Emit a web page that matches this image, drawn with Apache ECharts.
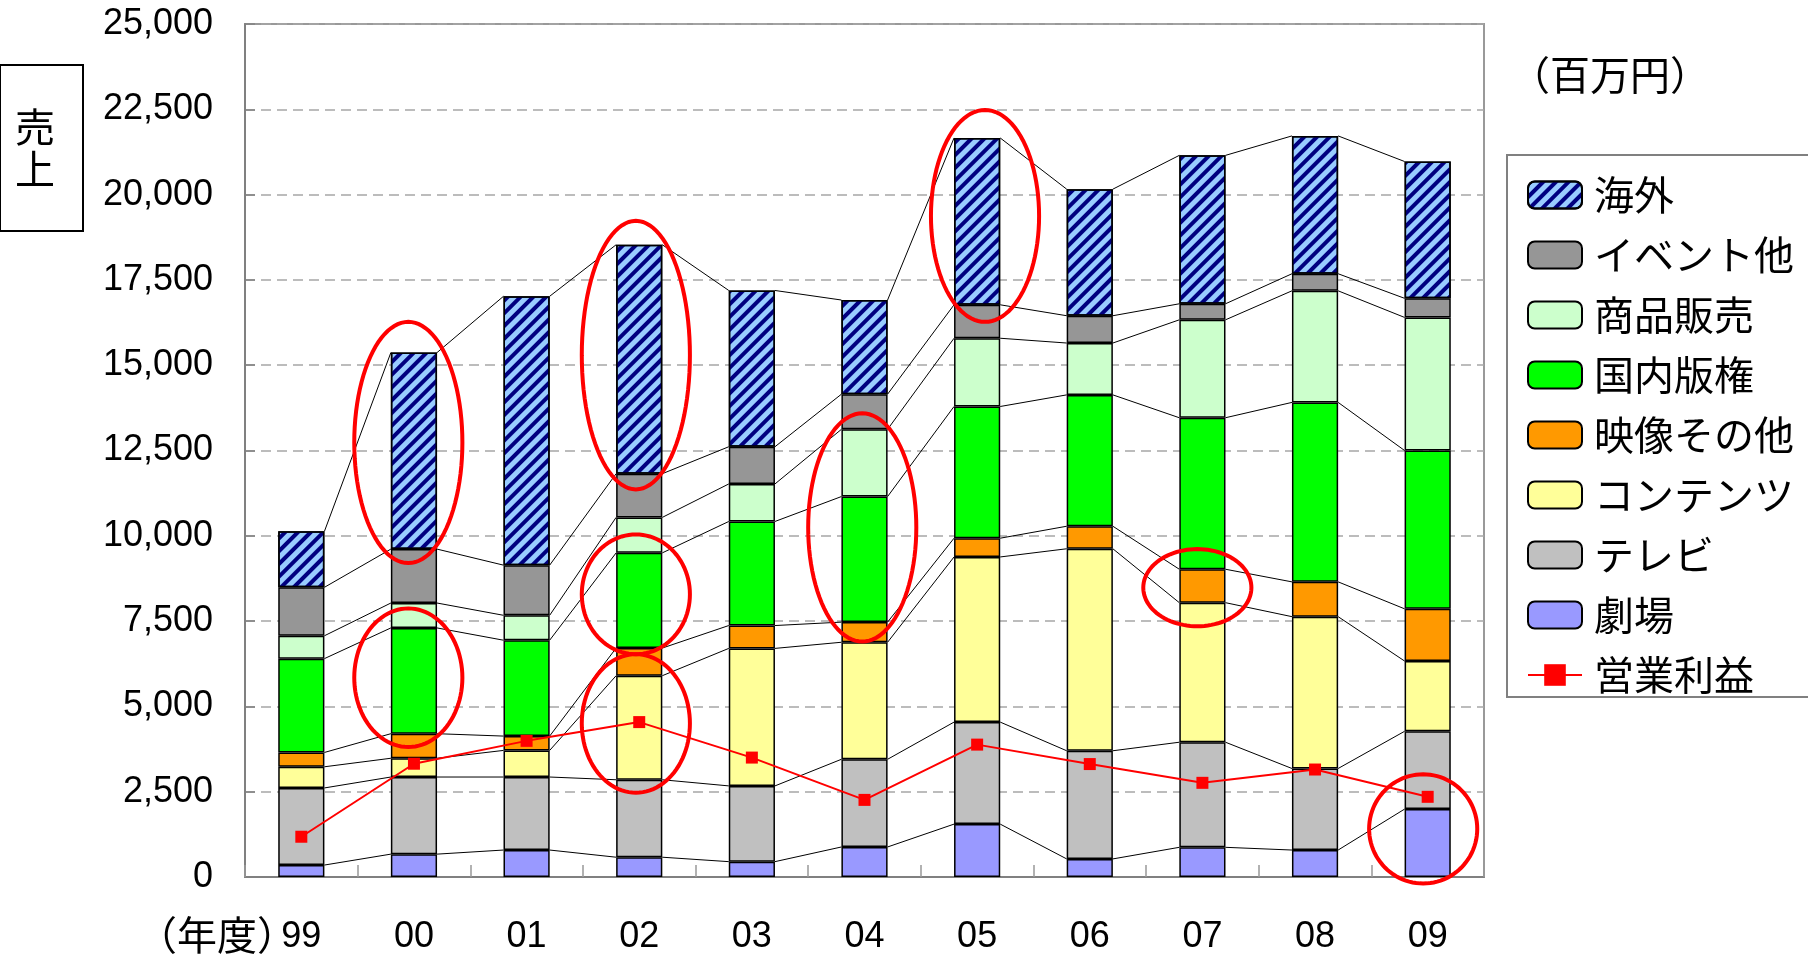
<!DOCTYPE html>
<html><head><meta charset="utf-8">
<script src="https://cdn.jsdelivr.net/npm/echarts@6/dist/echarts.min.js"></script>
<style>html,body{margin:0;padding:0;background:#fff}#c{width:1808px;height:955px}</style>
</head><body><div id="c"></div>
<script>
const years = ['99','00','01','02','03','04','05','06','07','08','09'];
const theater  = [350,670,790,580,450,880,1550,530,870,790,1990];
const tv       = [2260,2260,2140,2270,2220,2570,2990,3170,3080,2390,2280];
const contents = [620,550,780,3050,4030,3430,4840,5920,4090,4450,2060];
const video    = [420,720,420,810,670,590,550,660,980,1020,1530];
const domestic = [2750,3100,2810,2790,3050,3680,3860,3850,4440,5260,4640];
const goods    = [670,730,730,1040,1100,1970,2000,1520,2870,3270,3900];
const events   = [1420,1580,1470,1280,1090,1030,980,800,470,500,560];
const overseas = [1640,5760,7880,6710,4580,2760,4890,3710,4350,4040,4010];
const profit   = [1180,3320,3990,4540,3500,2260,3880,3310,2760,3150,2350];
const yMin = 0, yMax = 25000, yStep = 2500;
// highlight ellipses: [category index, low value, high value, x offset in categories]
const highlights = [
  [1, 9200, 16270, -0.05],
  [1, 3810, 7870, -0.05],
  [3, 11360, 19230, -0.03],
  [3, 6530, 10040, -0.03],
  [3, 2470, 6530, -0.03],
  [5, 6900, 13590, -0.02],
  [6, 16270, 22480, 0.07],
  [8, 7350, 9610, -0.045],
  [10, -190, 3010, -0.04]
];

const stackNames = ['劇場','テレビ','コンテンツ','映像その他','国内版権','商品販売','イベント他','海外'];
const stackData = [theater, tv, contents, video, domestic, goods, events, overseas];
const stackColors = ['#9999FF','#C0C0C0','#FFFF99','#FF9900','#00FF00','#CCFFCC','#969696','#99CCFF'];
const BAR_FRAC = 0.41;

function cumAt(i, k) { let s = 0; for (let j = 0; j <= k; j++) s += stackData[j][i]; return s; }

const series = stackData.map((d, k) => {
  const s = {
    name: stackNames[k], type: 'bar', stack: 'sales', barWidth: (BAR_FRAC*100)+'%', data: d, z: 2,
    itemStyle: { color: stackColors[k], borderColor: '#000', borderWidth: 1.5 }
  };
  if (k === 7) {
    s.itemStyle.decal = { symbol: 'rect', symbolSize: 1, color: '#000080', dashArrayX: [1, 0], dashArrayY: [4, 5], rotation: -Math.PI / 4 };
  }
  return s;
});

series.push({
  type: 'custom', name: '_conn', silent: true, z: 1,
  data: years.slice(0, -1).map((y, i) => [i]),
  encode: { x: 0 },
  renderItem(params, api) {
    const i = api.value(0);
    const bw = api.size([1, 0])[0] * BAR_FRAC;
    const children = [];
    for (let k = 0; k < stackData.length; k++) {
      const p1 = api.coord([i, cumAt(i, k)]);
      const p2 = api.coord([i + 1, cumAt(i + 1, k)]);
      children.push({ type: 'line', shape: { x1: p1[0] + bw / 2, y1: p1[1], x2: p2[0] - bw / 2, y2: p2[1] },
        style: { stroke: '#000', lineWidth: 1 } });
    }
    return { type: 'group', children };
  }
});

series.push({
  name: '営業利益', type: 'line', data: profit, z: 5,
  symbol: 'rect', symbolSize: 12,
  lineStyle: { color: '#FF0000', width: 2 },
  itemStyle: { color: '#FF0000' }
});

series.push({
  type: 'custom', name: '_hl', silent: true, z: 10, clip: false,
  data: highlights,
  encode: { x: 0, y: [1, 2] },
  renderItem(params, api) {
    const c = api.value(0), lo = api.value(1), hi = api.value(2), off = api.value(3);
    const cw = api.size([1, 0])[0];
    const cx = api.coord([c, 0])[0] + off * cw;
    const yTop = api.coord([c, hi])[1], yBot = api.coord([c, lo])[1];
    const cy = (yTop + yBot) / 2, ry = (yBot - yTop) / 2, rx = cw * 0.48;
    const pts = [];
    for (let t = 0; t < 96; t++) {
      const a = t / 96 * Math.PI * 2;
      pts.push([cx + rx * Math.cos(a), cy + ry * Math.sin(a)]);
    }
    return { type: 'polygon', shape: { points: pts }, style: { fill: 'none', stroke: '#FF0000', lineWidth: 4 } };
  }
});

const chart = echarts.init(document.getElementById('c'));
chart.setOption({
  animation: false,
  backgroundColor: '#fff',
  grid: { left: 245, right: 324, top: 24, bottom: 78, show: true, borderColor: '#999', borderWidth: 2, containLabel: false },
  xAxis: {
    type: 'category', data: years,
    axisLine: { lineStyle: { color: '#808080', width: 2 } },
    axisTick: { show: true, inside: true, length: 12, lineStyle: { color: '#999', width: 1.5 } },
    axisLabel: { color: '#000', fontSize: 36, fontFamily: 'Liberation Sans', margin: 42 }
  },
  yAxis: {
    type: 'value', min: yMin, max: yMax, interval: yStep,
    axisLine: { show: true, lineStyle: { color: '#808080', width: 2 } },
    axisTick: { show: true, inside: true, length: 10, lineStyle: { color: '#808080', width: 1.5 } },
    splitLine: { show: true, lineStyle: { color: '#A6A6A6', width: 1.5, type: [10, 6] } },
    axisLabel: { color: '#000', fontSize: 36, fontFamily: 'Liberation Sans', margin: 32, padding: [8, 0, 0, 0],
      formatter: v => v.toLocaleString('en-US') }
  },
  legend: {
    orient: 'vertical', left: 1522, top: 170, itemWidth: 54, itemHeight: 27, itemGap: 20,
    data: ['海外','イベント他','商品販売','国内版権','映像その他','コンテンツ','テレビ','劇場','営業利益'],
    textStyle: { fontSize: 40, fontFamily: 'Noto Sans CJK JP', color: '#000', padding: [0, 0, 0, 7] },
    selectedMode: false
  },
  graphic: [
    { type: 'rect', shape: { x: 0, y: 65, width: 83, height: 166 }, style: { fill: 'none', stroke: '#000', lineWidth: 2 } },
    { type: 'text', style: { x: 35, y: 148, text: '売\n上', fontSize: 40, lineHeight: 42, fontFamily: 'Noto Sans CJK JP', fill: '#000', align: 'center', verticalAlign: 'middle' } },
    { type: 'text', style: { x: 1610, y: 75, text: '（百万円）', fontSize: 40, fontFamily: 'Noto Sans CJK JP', fill: '#000', align: 'center', verticalAlign: 'middle' } },
    { type: 'text', style: { x: 297, y: 935, text: '（年度）', fontSize: 40, fontFamily: 'Noto Sans CJK JP', fill: '#000', align: 'right', verticalAlign: 'middle' } },
    { type: 'rect', shape: { x: 1507, y: 155, width: 320, height: 542 }, style: { fill: 'none', stroke: '#808080', lineWidth: 2 } }
  ],
  series
});
</script></body></html>
